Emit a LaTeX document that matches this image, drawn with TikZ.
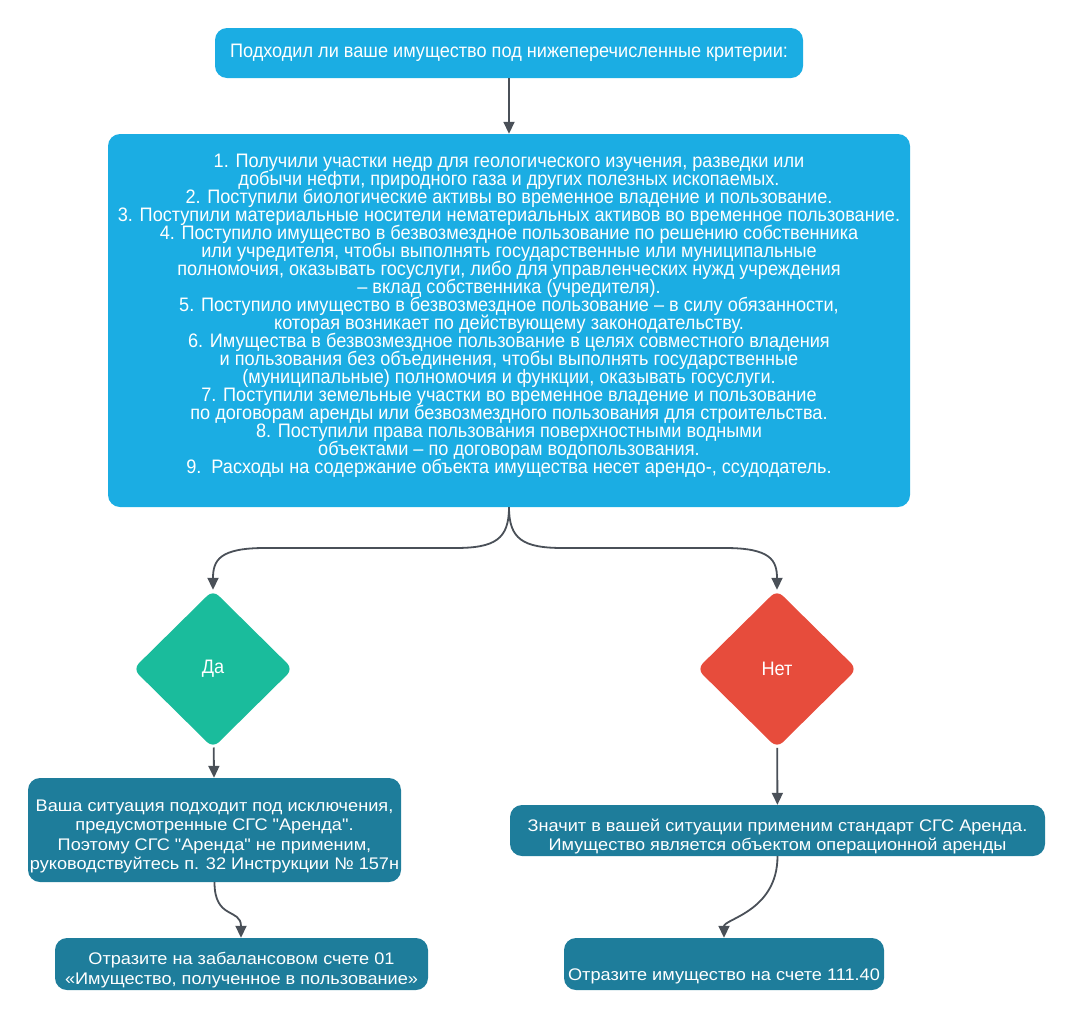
\documentclass[tikz,border=0pt]{standalone}
\usepackage{fontspec}
\setmainfont{Liberation Sans}
\newfontfamily\condfont[FakeStretch=0.93]{Liberation Sans}
\newfontfamily\widefont[FakeStretch=1.08]{Liberation Sans}
\newcommand{\tightlines}{\setlength{\lineskiplimit}{-20pt}}
\newcommand{\topgap}{\rule{0pt}{24pt}}
\definecolor{CritBlue}{RGB}{27, 173, 227}
\definecolor{ResTeal}{RGB}{30, 125, 155}
\definecolor{YesGreen}{RGB}{26, 188, 156}
\definecolor{NoRed}{RGB}{231, 76, 60}
\definecolor{LinkGray}{RGB}{74, 80, 88}
\usetikzlibrary{arrows.meta, positioning, shapes.geometric}

\begin{document}
\begin{tikzpicture}[x=1pt, y=-1pt,
    critbox/.style={fill=CritBlue, rounded corners=12pt, text=white, align=center, inner sep=0pt,
        font=\condfont\fontsize{19.5}{18}\selectfont\tightlines},
    resbox/.style={fill=ResTeal, rounded corners=12pt, text=white, align=center, inner sep=0pt,
        font=\widefont\fontsize{16.8}{19.5}\selectfont\tightlines},
    choice/.style={diamond, inner sep=0pt, minimum width=160pt, minimum height=158pt,
        rounded corners=8pt, text=white, font=\condfont\fontsize{19.5}{18}\selectfont},
    link/.style={draw=LinkGray, line width=1.8pt, -{Triangle[length=12pt, width=11pt]}}]
    \useasboundingbox (0,0) rectangle (1072,1018);

    % Question and criteria
    \node[critbox, minimum width=588pt, minimum height=50pt] (ask) at (509,53)
        {Подходил ли ваше имущество под нижеперечисленные критерии:};
    \node[critbox, minimum width=802pt, minimum height=373pt] (crit) at (509,320.5)
        {1. Получили участки недр для геологического изучения, разведки или\\
         добычи нефти, природного газа и других полезных ископаемых.\\
         2. Поступили биологические активы во временное владение и пользование.\\
         3. Поступили материальные носители нематериальных активов во временное пользование.\\
         4. Поступило имущество в безвозмездное пользование по решению собственника\\
         или учредителя, чтобы выполнять государственные или муниципальные\\
         полномочия, оказывать госуслуги, либо для управленческих нужд учреждения\\
         – вклад собственника (учредителя).\\
         5. Поступило имущество в безвозмездное пользование – в силу обязанности,\\
         которая возникает по действующему законодательству.\\
         6. Имущества в безвозмездное пользование в целях совместного владения\\
         и пользования без объединения, чтобы выполнять государственные\\
         (муниципальные) полномочия и функции, оказывать госуслуги.\\
         7. Поступили земельные участки во временное владение и пользование\\
         по договорам аренды или безвозмездного пользования для строительства.\\
         8. Поступили права пользования поверхностными водными\\
         объектами – по договорам водопользования.\\
         9.~~Расходы на содержание объекта имущества несет арендо-, ссудодатель.\\[-4pt]\mbox{}};

    % Yes / No
    \node[choice, fill=YesGreen] (yes) at (213,669) {Да};
    \node[choice, fill=NoRed] (no) at (777,669) {Нет};

    % Outcomes
    \node[resbox, minimum width=373pt, minimum height=104pt] (yesres) at (214.5,830)
        {\topgap Ваша ситуация подходит под исключения,\\
         предусмотренные СГС "Аренда".\\
         Поэтому СГС "Аренда" не применим,\\
         руководствуйтесь п. 32 Инструкции № 157н};
    \node[resbox, minimum width=535pt, minimum height=51pt] (nores) at (777.5,830.5)
        {\topgap Значит в вашей ситуации применим стандарт СГС Аренда.\\
         Имущество является объектом операционной аренды};
    \node[resbox, minimum width=373pt, minimum height=52pt] (offbal) at (241.5,964)
        {\topgap Отразите на забалансовом счете 01\\
         «Имущество, полученное в пользование»};
    \node[resbox, minimum width=320pt, minimum height=52pt] (acct) at (724,964)
        {\mbox{}\\[16pt]Отразите имущество на счете 111.40};

    % Connectors
    \draw[link] (ask) -- (crit);
    \draw[link] (crit.south) .. controls +(0,32) and +(40,0) .. (455,548)
        -- (265,548) .. controls +(-45,0) and +(0,-30) .. (yes.north);
    \draw[link] (crit.south) .. controls +(0,32) and +(-40,0) .. (563,548)
        -- (725,548) .. controls +(45,0) and +(0,-30) .. (no.north);
    \draw[link] (yes) -- (yesres);
    \draw[link] (no) -- (nores);
    \draw[link] (yesres.south) .. controls +(0,38) and +(0,-30) .. (offbal.north -| 241,0);
    \draw[link] (nores.south) .. controls +(0,55) and +(0,-45) .. (acct);
\end{tikzpicture}
\end{document}
